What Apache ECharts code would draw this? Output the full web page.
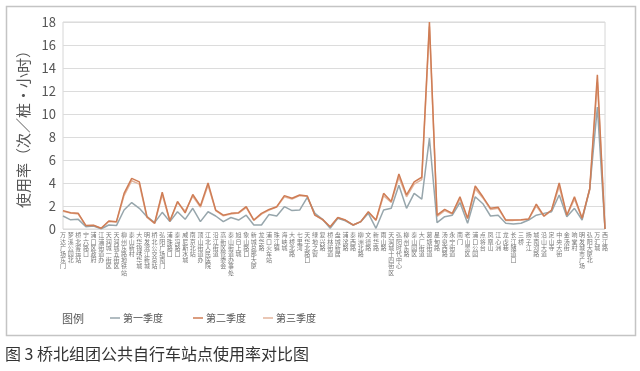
<!DOCTYPE html>
<html>
<head>
<meta charset="utf-8">
<script src="https://cdn.jsdelivr.net/npm/echarts@6/dist/echarts.min.js"></script>
<style>
html,body{margin:0;padding:0;background:#fff;}
#c{width:640px;height:371px;}
</style>
</head>
<body>
<div id="c"></div>
<script>
const stations = ["万达广场东门","梦溪公园北","桥北客运站","宁六路口","浦口区政府","江浦街道办","天润城一街区","天润城五街区","柳州东路地铁站","泰山新村","大华锦绣华城","明发滨江新城","桥北公交总站","弘阳广场南门","浦珠路口","泰冯路口","威尼斯水城","南京北站","顶山街道办","江北人民医院","沿江街道","高新区管委会","泰山街道办事处","旭日上城","象山路口","新城总部大厦","龙华路","浦口火车站","珠江镇","海峡城","大桥北路","七里河","天华北路口","绿地之窗","复兴路","桥林街道","盘城新居","浦滨路","泰西路","柳洲北路","文德路","新华路","雨山路","天润城十四街区","弘阳时代中心","柳州东路","泰山园区","大厂街道","葛塘街道","星甸路","汤泉西路","永宁街道","南门","老山景区","浦口公园","点将台","凤凰山","江心洲","龙虎巷","长江隧道口","三桥","扬子江","城南河路","沿山大道","定山寺","中央大街","金汤街","响堂村","明发城市广场","弘阳大厦北","万汇城","西江路"];
const q1 = [1.13,0.8,0.84,0.2,0.26,0.02,0.35,0.3,1.65,2.3,1.8,1.07,0.55,1.45,0.64,1.5,0.84,1.8,0.64,1.5,1.13,0.64,1.0,0.78,1.2,0.35,0.35,1.27,1.13,1.94,1.6,1.65,2.75,1.36,0.84,0.06,0.93,0.72,0.35,0.64,1.36,0.06,1.65,1.8,3.8,1.8,3.1,2.6,7.9,0.55,1.07,1.2,2.3,0.5,2.8,2.2,1.13,1.2,0.5,0.43,0.5,0.78,1.2,1.36,1.5,2.96,1.07,1.8,0.78,3.5,10.6,0];
const q2 = [1.6,1.42,1.36,0.3,0.32,0.06,0.7,0.64,3.1,4.4,4.1,1.07,0.5,3.2,0.7,2.4,1.4,3.0,2.0,4.0,1.65,1.2,1.36,1.42,1.94,0.78,1.36,1.7,1.94,2.9,2.67,2.96,2.87,1.2,0.84,0.2,1.0,0.78,0.35,0.64,1.5,0.78,3.1,2.4,4.78,2.96,4.1,4.5,18.0,1.2,1.7,1.36,2.8,0.93,3.74,2.8,1.8,1.9,0.78,0.78,0.8,0.87,2.17,1.13,1.65,4.0,1.2,2.8,0.93,3.5,13.4,0];
const q3 = [1.55,1.38,1.3,0.28,0.3,0.05,0.65,0.6,2.9,4.2,3.9,1.0,0.48,3.0,0.68,2.3,1.55,2.85,1.9,3.8,1.6,1.15,1.3,1.38,1.85,0.75,1.3,1.65,1.9,2.8,2.6,2.9,2.85,1.2,0.8,0.18,0.98,0.75,0.33,0.62,1.45,0.75,2.9,2.3,4.5,2.8,3.9,4.3,17.6,1.1,1.6,1.3,2.6,0.9,3.5,2.7,1.7,1.8,0.75,0.75,0.78,0.85,2.0,1.1,1.6,3.7,1.15,2.6,0.9,3.4,12.8,0];
const seriesNames = ["第一季度","第二季度","第三季度"];
const yTicks = {min:0, max:18, interval:2};

const chart = echarts.init(document.getElementById('c'), null, {renderer:'canvas'});
const FONT = '"Noto Sans CJK SC","Noto Sans",sans-serif';
const legendBase = {top:313, padding:0, itemWidth:10, itemHeight:1.5, itemGap:0, icon:'rect',
  textStyle:{fontSize:10,color:'#555',fontFamily:FONT,padding:[0,0,0,-2]}};
chart.setOption({
  backgroundColor:'#fff',
  animation:false,
  textStyle:{fontFamily:FONT},
  grid:{left:63,right:35,top:22,bottom:142,show:true,borderColor:'#d6d6d6',borderWidth:1},
  legend:[
    Object.assign({left:110, data:[seriesNames[0]]}, legendBase),
    Object.assign({left:193, data:[seriesNames[1]]}, legendBase),
    Object.assign({left:263, data:[seriesNames[2]]}, legendBase)
  ],
  xAxis:{
    type:'category', data:stations, boundaryGap:false,
    axisLine:{show:false}, axisTick:{show:false},
    axisLabel:{interval:0, fontSize:6, lineHeight:6.2, color:'#777', margin:3,
      formatter:v=>v.split('').join('\n')}
  },
  yAxis:{
    type:'value', min:yTicks.min, max:yTicks.max, interval:yTicks.interval,
    name:'使用率（次／桩・小时）', nameLocation:'middle', nameRotate:90, nameGap:30,
    nameTextStyle:{fontSize:15,color:'#555',fontFamily:FONT},
    axisLine:{show:false}, axisTick:{show:false},
    axisLabel:{fontSize:13,color:'#555',margin:7},
    splitLine:{lineStyle:{color:'#dcdcdc',width:1.2}}
  },
  series:[
    {name:seriesNames[0], type:'line', data:q1, symbol:'none', color:'#97a6ac', lineStyle:{width:1.5}, z:3},
    {name:seriesNames[2], type:'line', data:q3, symbol:'none', color:'#e3b49c', lineStyle:{width:1.5}, z:2},
    {name:seriesNames[1], type:'line', data:q2, symbol:'none', color:'#cf7d55', lineStyle:{width:1.5}, z:4}
  ],
  graphic:[
    {type:'rect', left:4, top:4, shape:{width:629, height:329}, style:{fill:'none', stroke:'#c4c4c4', lineWidth:1.5}, silent:true, z:-1},
    {type:'text', left:62, top:313, style:{text:'图例', fill:'#555', font:'11px '+FONT}},
    {type:'text', left:5, top:346, style:{text:'图 3 桥北组团公共自行车站点使用率对比图', fill:'#333', font:'16px '+FONT}}
  ]
});
</script>
</body>
</html>
